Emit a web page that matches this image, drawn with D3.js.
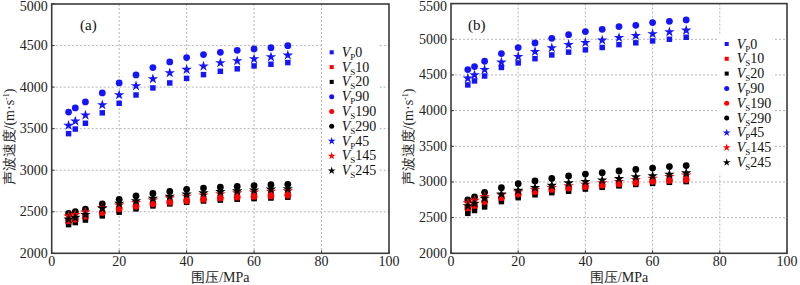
<!DOCTYPE html>
<html>
<head>
<meta charset="utf-8">
<script src="https://cdn.jsdelivr.net/npm/d3@7"></script>
<style>
  body { margin: 0; background: #fff; }
  svg text { font-family: "Liberation Serif", "DejaVu Serif", serif; }
</style>
</head>
<body>
<div id="main"></div>
<script>
// confining pressure (MPa)
const pressure = [5, 7, 10, 15, 20, 25, 30, 35, 40, 45, 50, 55, 60, 65, 70];

// panel (a)
const aVp0   = [3440, 3495, 3565, 3690, 3805, 3905, 3990, 4050, 4105, 4150, 4190, 4220, 4255, 4275, 4295];
const aVs10  = [2370, 2390, 2420, 2470, 2515, 2550, 2580, 2600, 2620, 2635, 2650, 2660, 2670, 2680, 2690];
const aVs20  = [2345, 2370, 2400, 2450, 2495, 2535, 2570, 2595, 2615, 2630, 2640, 2650, 2658, 2665, 2675];
const aVp90  = [3700, 3750, 3822, 3930, 4050, 4147, 4235, 4303, 4355, 4391, 4419, 4443, 4459, 4475, 4499];
const aVs190 = [2390, 2410, 2445, 2490, 2535, 2565, 2595, 2615, 2632, 2650, 2665, 2675, 2685, 2690, 2700];
const aVs290 = [2480, 2500, 2530, 2595, 2650, 2690, 2720, 2745, 2770, 2785, 2795, 2805, 2815, 2825, 2830];
const aVp45  = [3538, 3590, 3662, 3786, 3906, 4014, 4098, 4171, 4211, 4251, 4291, 4315, 4339, 4363, 4383];
const aVs145 = [2445, 2465, 2495, 2550, 2580, 2610, 2640, 2665, 2685, 2700, 2715, 2725, 2735, 2745, 2750];
const aVs245 = [2410, 2430, 2465, 2540, 2600, 2630, 2660, 2685, 2710, 2725, 2740, 2750, 2760, 2770, 2775];

// panel (b)
const bVp0   = [4360, 4416, 4485, 4605, 4668, 4728, 4780, 4820, 4852, 4885, 4925, 4950, 4977, 5000, 5028];
const bVs10  = [2600, 2635, 2690, 2755, 2805, 2845, 2875, 2890, 2915, 2935, 2955, 2975, 2995, 3005, 3015];
const bVs20  = [2560, 2600, 2650, 2725, 2780, 2820, 2850, 2870, 2900, 2925, 2945, 2965, 2980, 2995, 3005];
const bVp90  = [4575, 4617, 4692, 4799, 4883, 4949, 5014, 5065, 5108, 5140, 5178, 5196, 5234, 5252, 5271];
const bVs190 = [2635, 2670, 2725, 2780, 2830, 2865, 2895, 2915, 2935, 2955, 2975, 2990, 3010, 3020, 3030];
const bVs290 = [2750, 2790, 2855, 2920, 2975, 3015, 3050, 3085, 3110, 3130, 3155, 3175, 3195, 3215, 3230];
const bVp45  = [4453, 4500, 4575, 4678, 4757, 4827, 4879, 4925, 4953, 4986, 5023, 5051, 5075, 5103, 5126];
const bVs145 = [2705, 2740, 2795, 2820, 2860, 2890, 2920, 2945, 2965, 2985, 3005, 3030, 3050, 3075, 3095];
const bVs245 = [2665, 2700, 2770, 2830, 2880, 2920, 2950, 2985, 3005, 3025, 3045, 3070, 3085, 3105, 3125];

const legendSub = ['P', 'S', 'S', 'P', 'S', 'S', 'P', 'S', 'S'];
const legendNum = ['0', '10', '20', '90', '190', '290', '45', '145', '245'];
const xTicks = [0, 20, 40, 60, 80, 100];
const aYTicks = [2000, 2500, 3000, 3500, 4000, 4500, 5000];
const bYTicks = [2000, 2500, 3000, 3500, 4000, 4500, 5000, 5500];

const shapes = [d3.symbolSquare, d3.symbolSquare, d3.symbolSquare,
                d3.symbolCircle, d3.symbolCircle, d3.symbolCircle,
                d3.symbolStar, d3.symbolStar, d3.symbolStar];
const colors = ['#1414ff', '#ff0000', '#000000', '#1414ff', '#ff0000', '#000000', '#1414ff', '#ff0000', '#000000'];
const sizes = { square: 30, circle: 36, star: 34 };

function symSize(sh, scale) {
    if (sh === d3.symbolSquare) return sizes.square * scale;
    if (sh === d3.symbolCircle) return sizes.circle * scale;
    return sizes.star * scale;
}

const svg = d3.select('#main').append('svg').attr('width', 800).attr('height', 285);

function drawPanel(opt) {
    let x = d3.scaleLinear().domain([0, 100]).range([opt.x0, opt.x1]);
    let y = d3.scaleLinear().domain(d3.extent(opt.yTicks)).range([opt.y1, opt.y0]);
    let g = svg.append('g');

    // grid
    g.append('g').selectAll('line')
        .data(xTicks.slice(1, -1))
        .enter().append('line')
        .attr('x1', d => x(d)).attr('x2', d => x(d))
        .attr('y1', opt.y0).attr('y2', opt.y1)
        .attr('stroke', '#b4b4b4').attr('stroke-dasharray', '2,2');
    g.append('g').selectAll('line')
        .data(opt.yTicks.slice(1, -1))
        .enter().append('line')
        .attr('x1', opt.x0).attr('x2', opt.x1)
        .attr('y1', d => y(d)).attr('y2', d => y(d))
        .attr('stroke', '#b4b4b4').attr('stroke-dasharray', '2,2');

    // series
    opt.series.forEach((vals, i) => {
        let sym = d3.symbol().type(shapes[i]).size(symSize(shapes[i], 1));
        g.append('g').selectAll('path')
            .data(vals)
            .enter().append('path')
            .attr('d', sym)
            .attr('transform', (d, j) => `translate(${x(pressure[j])},${y(d)})`)
            .attr('fill', colors[i]);
    });

    // legend
    let lg = g.append('g');
    lg.append('rect')
        .attr('x', opt.lx - 9).attr('y', opt.ly - 10)
        .attr('width', 55).attr('height', 9 * 14.8 + 6)
        .attr('fill', '#fff');
    legendNum.forEach((num, i) => {
        let cy = opt.ly + i * 14.8;
        let sym = d3.symbol().type(shapes[i]).size(symSize(shapes[i], 0.55));
        lg.append('path').attr('d', sym)
            .attr('transform', `translate(${opt.lx},${cy})`)
            .attr('fill', colors[i]);
        let t = lg.append('text')
            .attr('x', opt.lx + 10).attr('y', cy + 4.5)
            .attr('font-size', 14).attr('fill', '#111');
        t.append('tspan').attr('font-style', 'italic').text('V');
        t.append('tspan').attr('font-size', 9).attr('dy', 3).text(legendSub[i]);
        t.append('tspan').attr('dy', -3).text(num);
    });

    // frame
    g.append('rect')
        .attr('x', opt.x0).attr('y', opt.y0)
        .attr('width', opt.x1 - opt.x0).attr('height', opt.y1 - opt.y0)
        .attr('fill', 'none').attr('stroke', '#3a3a3a').attr('stroke-width', 1.6);

    // ticks + labels
    g.append('g').selectAll('line')
        .data(xTicks)
        .enter().append('line')
        .attr('x1', d => x(d)).attr('x2', d => x(d))
        .attr('y1', opt.y1).attr('y2', opt.y1 - 3)
        .attr('stroke', '#3a3a3a');
    g.append('g').selectAll('line')
        .data(opt.yTicks)
        .enter().append('line')
        .attr('x1', opt.x0).attr('x2', opt.x0 + 3)
        .attr('y1', d => y(d)).attr('y2', d => y(d))
        .attr('stroke', '#3a3a3a');

    g.append('g').selectAll('text')
        .data(xTicks)
        .enter().append('text')
        .attr('x', d => x(d)).attr('y', opt.y1 + 13)
        .attr('text-anchor', 'middle').attr('font-size', 14).attr('fill', '#222')
        .text(d => d);
    g.append('g').selectAll('text')
        .data(opt.yTicks)
        .enter().append('text')
        .attr('x', opt.x0 - 4).attr('y', d => Math.max(y(d) + 4.5, 11))
        .attr('text-anchor', 'end').attr('font-size', 14).attr('fill', '#222')
        .text(d => d);

    g.append('text')
        .attr('x', (opt.x0 + opt.x1) / 2).attr('y', 282)
        .attr('text-anchor', 'middle').attr('font-size', 14).attr('fill', '#222')
        .text('围压/MPa');

    let yt = g.append('text')
        .attr('transform', `translate(${opt.x0 - 38},137) rotate(-90)`)
        .attr('text-anchor', 'middle').attr('font-size', 14).attr('fill', '#222');
    yt.append('tspan').text('声波速度/(m·s');
    yt.append('tspan').attr('font-size', 8).attr('dy', -5).text('-1');
    yt.append('tspan').attr('dy', 5).text(')');

    g.append('text')
        .attr('x', opt.tagX).attr('y', 30)
        .attr('font-size', 15).attr('fill', '#111')
        .text(opt.tag);
}

drawPanel({
    x0: 51.7, x1: 389, y0: 4, y1: 253.3,
    yTicks: aYTicks,
    series: [aVp0, aVs10, aVs20, aVp90, aVs190, aVs290, aVp45, aVs145, aVs245],
    lx: 331.7, ly: 52.3, tag: '(a)', tagX: 80
});

drawPanel({
    x0: 451, x1: 787, y0: 3.6, y1: 253.3,
    yTicks: bYTicks,
    series: [bVp0, bVs10, bVs20, bVp90, bVs190, bVs290, bVp45, bVs145, bVs245],
    lx: 726.7, ly: 44, tag: '(b)', tagX: 468
});
</script>
</body>
</html>
